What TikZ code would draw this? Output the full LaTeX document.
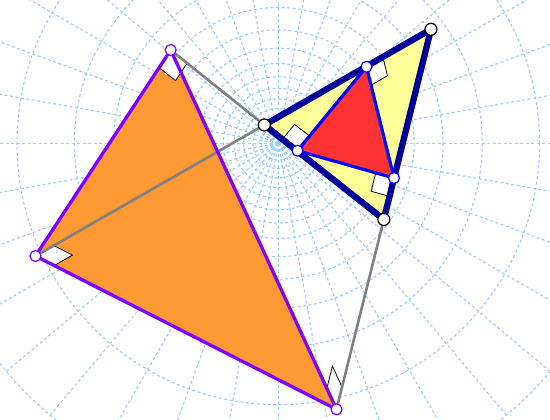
\documentclass[tikz,border=0pt]{standalone}
\usepackage{tikz}
\usetikzlibrary{calc}
\definecolor{gridblue}{RGB}{153,204,255}
\definecolor{orangefill}{RGB}{255,153,51}
\definecolor{purpleline}{RGB}{127,0,255}
\definecolor{navyline}{RGB}{0,0,153}
\definecolor{yellowfill}{RGB}{255,255,153}
\definecolor{redfill}{RGB}{255,51,51}
\tikzset{
    gridline/.style = {draw=gridblue, line width=1.1pt, dash pattern=on 3pt off 2.5pt},
    outer/.style = {draw=purpleline, line width=3.3pt, line join=round},
    inner/.style = {draw=navyline, line width=6.3pt, line join=round},
    pedal/.style = {draw=blue, line width=3.2pt, line join=round},
    link/.style = {draw=gray, line width=2.6pt},
    markbox/.style = {draw=black, line width=0.8pt, fill=white},
    avertex/.style = {circle, inner sep=0pt, minimum size=11pt, draw=purpleline, line width=1.2pt, fill=white},
    bvertex/.style = {circle, inner sep=0pt, minimum size=12pt, draw=black, line width=1.2pt, fill=white},
    cvertex/.style = {circle, inner sep=0pt, minimum size=11pt, draw=blue, line width=1.2pt, fill=white}
}
\newcommand{\anglemark}[4]{%
    \draw[markbox] (#1) -- ($(#1)!#4!(#2)$) -- ($(#1)!#4!(#2) + (#1)!#4!(#3) - (#1)$) -- ($(#1)!#4!(#3)$) -- cycle;
}

\begin{document}
\begin{tikzpicture}[x=1pt, y=-1pt]
    \useasboundingbox (0,0) rectangle (550,420);

    \coordinate (O) at (278.3,143.3);
    \coordinate (A1) at (170.7,50);
    \coordinate (A2) at (35.5,256);
    \coordinate (A3) at (336.5,409.3);
    \coordinate (B1) at (264.3,125);
    \coordinate (B2) at (431,29.3);
    \coordinate (B3) at (383.8,219.5);
    \coordinate (C1) at (366.5,66.8);
    \coordinate (C2) at (297.5,150.7);
    \coordinate (C3) at (394,178);

    \begin{scope}
        \clip (0,0) rectangle (550,420);
        \foreach \k in {1,...,15}
            \draw[gridline] (O) circle [radius={95.1*tan(5*\k)}];
        \foreach \a in {0,10,...,350}
            \draw[gridline] (O) -- ++(\a:355);
    \end{scope}

    \fill[orangefill] (A1) -- (A2) -- (A3) -- cycle;
    \fill[yellowfill] (B1) -- (B2) -- (B3) -- cycle;
    \fill[redfill] (C1) -- (C2) -- (C3) -- cycle;

    \anglemark{A1}{A2}{B1}{21pt}
    \anglemark{A2}{B1}{A3}{21pt}
    \anglemark{A3}{A1}{B3}{23pt}
    \anglemark{C1}{B2}{C3}{19pt}
    \anglemark{C2}{B1}{C1}{19pt}
    \anglemark{C3}{C2}{B3}{19pt}

    \draw[link] (B1) -- (A1);
    \draw[link] (B1) -- (A2);
    \draw[link] (B3) -- (A3);

    \draw[outer] (A1) -- (A2) -- (A3) -- cycle;
    \draw[inner] (B1) -- (B2) -- (B3) -- cycle;
    \draw[pedal] (C1) -- (C2) -- (C3) -- cycle;

    \node[avertex] (a1) at (A1) {};
    \node[avertex] (a2) at (A2) {};
    \node[avertex] (a3) at (A3) {};
    \node[bvertex] (b1) at (B1) {};
    \node[bvertex] (b2) at (B2) {};
    \node[bvertex] (b3) at (B3) {};
    \node[cvertex] (c1) at (C1) {};
    \node[cvertex] (c2) at (C2) {};
    \node[cvertex] (c3) at (C3) {};
\end{tikzpicture}
\end{document}
